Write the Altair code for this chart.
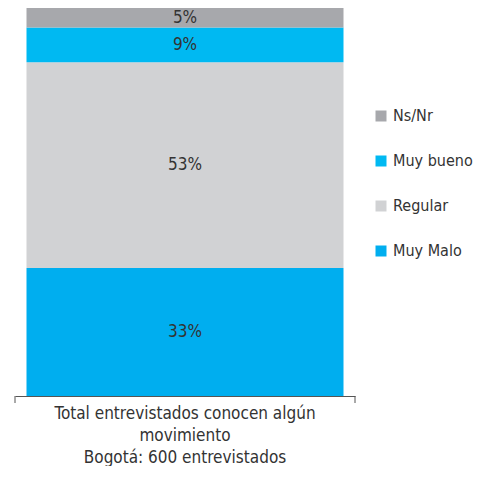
import altair as alt
import pandas as pd

categories = ["Muy Malo", "Regular", "Muy bueno", "Ns/Nr"]
values = [33, 53, 9, 5]
colors = ["#00AEEF", "#D1D2D4", "#00B9F2", "#A7A8AC"]
legend_order = ["Ns/Nr", "Muy bueno", "Regular", "Muy Malo"]
group = "Total entrevistados conocen algún\nmovimiento\nBogotá: 600 entrevistados"

df = pd.DataFrame({
    "grupo": [group] * len(categories),
    "categoria": categories,
    "valor": values,
    "orden": list(range(len(categories))),
    "etiqueta": [f"{v}%" for v in values],
})

FONT = "'Liberation Sans Narrow', 'DejaVu Sans Condensed', 'Roboto Condensed', Roboto, sans-serif"
W, H = 340, 388

base = alt.Chart(df)

xenc = alt.X("grupo:N", title=None,
             axis=alt.Axis(labels=False, ticks=False, domain=True,
                           domainColor="#555555", domainWidth=1, grid=False))

bars = base.mark_bar(size=317).encode(
    x=xenc,
    y=alt.Y("valor:Q", stack="zero", title=None,
            scale=alt.Scale(domain=[0, 100], nice=False),
            axis=None),
    color=alt.Color("categoria:N",
                    scale=alt.Scale(domain=categories, range=colors),
                    sort=legend_order,
                    legend=alt.Legend(title=None, orient="none", legendX=358, legendY=100,
                                      symbolType="square", symbolSize=121,
                                      symbolStrokeWidth=0, labelOffset=4,
                                      labelFont=FONT, labelFontSize=16,
                                      labelColor="#333333", rowPadding=29,
                                      values=legend_order)),
    order=alt.Order("orden:Q"),
)

labels = base.transform_stack(
    stack="valor", groupby=["grupo"], as_=["y0", "y1"],
    sort=[alt.SortField("orden")]
).transform_calculate(
    mid="(datum.y0 + datum.y1) / 2"
).mark_text(font=FONT, fontSize=17, color="#333333", baseline="middle").encode(
    x=alt.X("grupo:N"),
    y=alt.Y("mid:Q"),
    text="etiqueta:N",
)

tick_l = base.transform_filter("datum.orden == 0").mark_rule(color="#555555", strokeWidth=1).encode(
    x=alt.value(0), y=alt.value(H), y2=alt.value(H + 7),
)
tick_r = base.transform_filter("datum.orden == 0").mark_rule(color="#555555", strokeWidth=1).encode(
    x=alt.value(W), y=alt.value(H), y2=alt.value(H + 7),
)

grp_text = base.transform_filter("datum.orden == 0").mark_text(
    font=FONT, fontSize=17, color="#333333", baseline="middle",
    lineBreak="\n", lineHeight=22,
).encode(
    x=alt.X("grupo:N"),
    y=alt.value(H + 18),
    text="grupo:N",
)

chart = alt.layer(bars, labels, grp_text, tick_l, tick_r).properties(
    width=W, height=H,
    autosize=alt.AutoSizeParams(type="none"),
    padding={"left": 7, "top": 0, "right": 118, "bottom": 70},
).configure_view(stroke=None)

chart.save("out.html", embed_options={"renderer": "svg", "actions": False})
